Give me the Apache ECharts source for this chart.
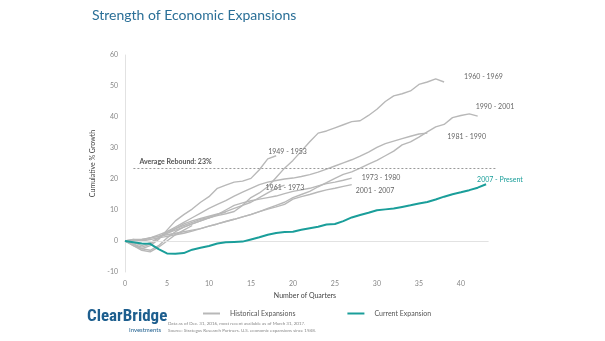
<!DOCTYPE html>
<html><head><meta charset="utf-8">
<script src="https://cdn.jsdelivr.net/npm/echarts@6/dist/echarts.min.js"></script>
<style>html,body{margin:0;padding:0;background:#fff}#c{width:605px;height:341px}</style>
</head><body><div id="c"></div>
<script>
// Cumulative % growth by quarter since the trough (index = quarter number)
const exp1949 = [0,-1.5,-2.5,-1.5,0.5,3.5,6.5,8.5,10.3,12.5,14.3,17,18,19,19.3,20.2,23,26.5,27.5];
const exp1960 = [0,-1,-2.5,-3,-1.5,1,3,4.5,5.5,6.5,7.5,8.2,8.8,9.5,11.5,14,15.5,17.5,20.5,23.5,26,29,32,34.8,35.5,36.5,37.5,38.5,38.8,40.5,42.5,45,46.8,47.5,48.4,50.5,51.3,52.3,51.3];
const exp1990 = [0,-0.5,0,0.5,1,1.5,2,2.5,3.2,4,4.8,5.5,6.3,7,7.8,8.6,9.5,10.5,11.5,12.5,14,15,16,17.5,18.8,20.2,21.5,22.3,23.5,24.8,26,27.5,29,31,32,33.5,35.2,36.8,37.6,39.8,40.5,41,40.3];
const exp1981 = [0,-0.5,-1.5,-0.5,1,3,4.5,6,7.5,9,10.5,11.8,13,14.5,15.8,17,18.2,19,19.5,20,20.3,20.8,21.4,22.2,23.2,24.2,25.2,26.2,27.4,28.7,30.2,31.4,32.2,33,33.8,34.5,34.8];
const exp1961 = [0,0.5,0,1,2,3,4,5,6,7,7.5,8.5,9.5,10.5,11.5,12.5,14,15.5,17,18];
const exp1973 = [0,0.5,0.5,1,1.5,2.5,3.5,4.5,5.5,6.5,7.5,8.5,10,11.5,12.3,13,13.5,14,14.5,15.3,16,16.5,17,17.8,18.5,19,19.6,20.3];
const exp2001 = [0,0.2,0.5,1,1.5,2,2.5,3,3.5,4,4.8,5.5,6.3,7,7.8,8.5,9.5,10.3,11,11.8,13.5,14.3,15,15.8,16.5,17,17.6,18.2];
const exp1954 = [0,-1,-2,-1,1,2.5,4,5.5,6.5,7.3,8,8.7,9.3];
const exp1958 = [0,-1.5,-3,-3.5,-2,0,2,3.5,5];
const current = [0,-0.4,-0.8,-0.9,-2.6,-4.0,-4.1,-3.9,-2.8,-2.2,-1.6,-0.8,-0.4,-0.3,-0.2,0.5,1.2,2.0,2.6,2.9,3.0,3.6,4.1,4.6,5.3,5.5,6.4,7.6,8.4,9.1,9.9,10.2,10.5,11.0,11.5,12.1,12.6,13.4,14.3,15.1,15.7,16.4,17.2,18.3];
const averageRebound = 23.5;
const seriesLabels = ['1949 - 1953','1960 - 1969','1990 - 2001','1981 - 1990','1961 - 1973','1973 - 1980','2001 - 2007','',''];
const currentLabel = '2007 - Present';
const yTicks = [-10,0,10,20,30,40,50,60];

const hist = [exp1949,exp1960,exp1990,exp1981,exp1961,exp1973,exp2001,exp1954,exp1958];
const labelOffsets = [[-16,-4],[12,-5],[-10,-9],[12,4],[-27,3],[2,0],[-4,6],[0,0],[0,0]];
const toPts = a => a.map((v,i)=>[i,v]);
const GRAY = '#b8b8b8', TEAL = '#1a9e9a';
const FONT = 'Lato, sans-serif';

const series = hist.map((a,k)=>({
  name:'Historical Expansions', type:'line', data:toPts(a), symbol:'none',
  lineStyle:{color:GRAY,width:1.4}, itemStyle:{color:GRAY}, z:2,
  endLabel:{show:!!seriesLabels[k], formatter:seriesLabels[k], offset:labelOffsets[k],
    fontSize:7, color:'#666', fontFamily:FONT}
}));
series.push({
  name:'Current Expansion', type:'line', data:toPts(current), symbol:'none',
  lineStyle:{color:TEAL,width:2}, itemStyle:{color:TEAL}, z:5,
  endLabel:{show:true, formatter:currentLabel, offset:[-17,-5], fontSize:7, color:TEAL, fontFamily:FONT},
  markLine:{silent:true, symbol:'none', animation:false, data:[
    [{coord:[1,averageRebound], lineStyle:{color:'#999',type:[2,2],width:1},
      label:{show:true, formatter:'Average Rebound: 23%', position:'insideStartTop', distance:[6,3],
        fontSize:7, fontWeight:'bold', color:'#555', fontFamily:FONT}},
     {coord:[44.3,averageRebound]}],
    [{coord:[0,0], lineStyle:{color:'#e2e2e2',type:'solid',width:1}, label:{show:false}},
     {coord:[43.3,0]}]
  ]}
});

const chart = echarts.init(document.getElementById('c'));
chart.setOption({
  animation:false,
  title:{text:'Strength of Economic Expansions', left:87, top:3,
    textStyle:{fontFamily:FONT, fontSize:14, fontWeight:'normal', color:'#2a6f97'}},
  grid:{left:125, right:108, top:55, bottom:69},
  xAxis:{type:'value', min:0, max:44.3, interval:5,
    name:'Number of Quarters', nameLocation:'middle', nameGap:16,
    nameTextStyle:{fontSize:7, color:'#444', fontFamily:FONT, padding:[0,12,0,0]},
    axisLine:{show:false}, axisTick:{show:false}, splitLine:{show:false},
    axisLabel:{fontSize:7, color:'#888', fontFamily:FONT, margin:8, formatter:v=> v%5===0 ? String(v) : ''}},
  yAxis:{type:'value', min:yTicks[0], max:yTicks[yTicks.length-1], interval:10,
    name:'Cumulative % Growth', nameLocation:'middle', nameGap:20,
    nameTextStyle:{fontSize:7, color:'#444', fontFamily:FONT},
    axisLine:{show:true, lineStyle:{color:'#e2e2e2'}}, axisTick:{show:false}, splitLine:{show:false},
    axisLabel:{fontSize:7, color:'#888', fontFamily:FONT, margin:7}},
  legend:{data:['Historical Expansions','Current Expansion'], left:198, top:305,
    icon:'rect', itemWidth:17, itemHeight:2, itemGap:52,
    textStyle:{fontSize:7, color:'#555', fontFamily:FONT, padding:[0,0,0,5]}},
  graphic:[
    {type:'text', left:87, top:308, style:{text:'ClearBridge', font:'bold 17px "Liberation Sans Narrow", "Roboto Condensed", Arial, sans-serif', fill:'#1d5e8e'}},
    {type:'text', left:129, top:327, style:{text:'Investments', font:'6px Lato, sans-serif', fill:'#1d5e8e'}},
    {type:'text', left:168, top:321, style:{text:'Data as of Dec. 31, 2016, most recent available as of March 31, 2017.', font:'4.5px Lato, sans-serif', fill:'#888'}},
    {type:'text', left:168, top:328, style:{text:'Source: Strategas Research Partners. U.S. economic expansions since 1948.', font:'4.5px Lato, sans-serif', fill:'#888'}}
  ],
  series
});
</script></body></html>
